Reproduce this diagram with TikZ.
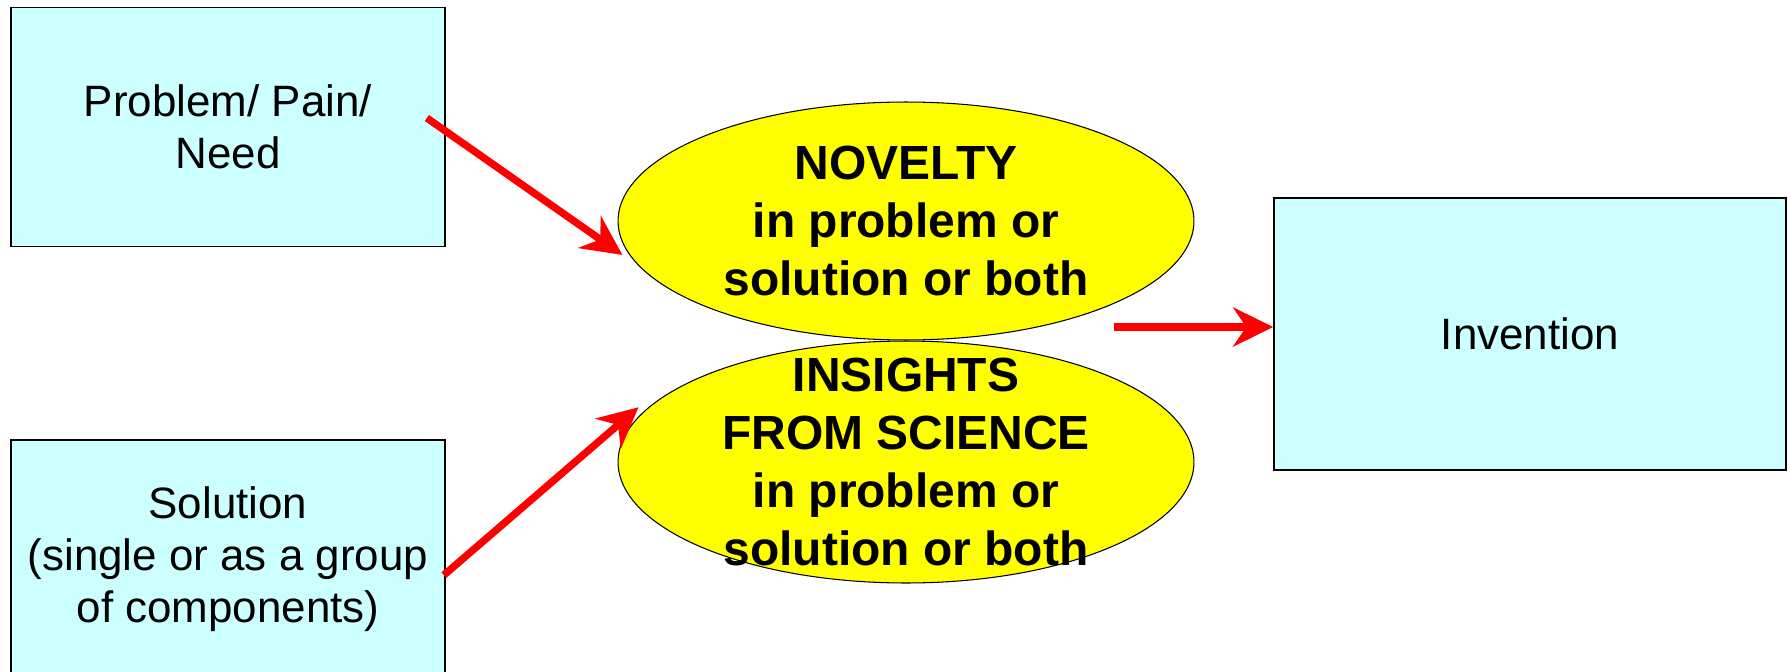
\documentclass[tikz,border=0pt]{standalone}
\usepackage{fontspec}
\setmainfont{Liberation Sans}
\usepackage{xcolor}
\usepackage{tikz}
\usetikzlibrary{shapes.geometric,arrows.meta,positioning}
\definecolor{boxcyan}{HTML}{CCFFFF}
\definecolor{ovalyellow}{HTML}{FFFF00}

\begin{document}
\begin{tikzpicture}[
    x=0.02cm, y=-0.02cm,
    box/.style={rectangle, draw, line width=1pt, fill=boxcyan, minimum width=8.68cm, minimum height=4.78cm, align=center, font=\fontsize{25pt}{29.5pt}\selectfont},
    oval/.style={ellipse, draw, line width=0.6pt, fill=ovalyellow, minimum width=11.52cm, minimum height=4.76cm, inner sep=0pt},
    ovaltext/.style={align=center, font=\fontsize{27.3pt}{33pt}\selectfont\bfseries},
    arrow/.style={-{Stealth[length=0.8cm, width=0.78cm, inset=0.26cm]}, line width=4.2pt, red}
]
\useasboundingbox (0,0) rectangle (1790,672);
\node[box] (problem) at (228,127) {Problem/ Pain/\\Need};
\node[box, below=3.83cm of problem] (solution) {Solution\\(single or as a group\\of components)};
\node[oval] (novelty) at (906,221) {};
\node[oval, minimum height=4.84cm, below=0pt of novelty] (insight) {};
\node[ovaltext] (noveltytext) at (novelty) {NOVELTY\\in problem or\\solution or both};
\node[ovaltext] (insighttext) at (insight) {INSIGHTS\\FROM SCIENCE\\in problem or\\solution or both};
\node[box, minimum width=10.24cm, minimum height=5.44cm] (invention) at (1530,334) {Invention};
\coordinate (join) at (1114,327);

\draw[arrow] ([shift={(-19,-9)}]problem.east) -- ([xshift=-0.14cm]novelty.187);
\draw[arrow] ([shift={(-2,16)}]solution.east) -- ([xshift=-0.2cm]insight.168);
\draw[arrow] (join) -- (join -| invention.west);
\end{tikzpicture}
\end{document}
